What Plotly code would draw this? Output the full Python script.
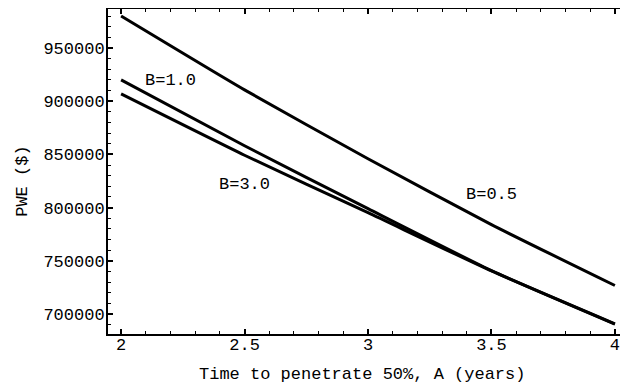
import plotly.graph_objects as go

# Data
A_years = [2.0, 2.5, 3.0, 3.5, 4.0]
pwe_b05 = [980000, 910600, 845900, 784000, 726800]
pwe_b10 = [920000, 858100, 799000, 740800, 690600]
pwe_b30 = [906800, 849200, 795200, 740500, 690800]

labels = ["B=1.0", "B=3.0", "B=0.5"]
label_x = [2.2, 2.5, 3.5]
label_y = [919000, 821500, 812100]

x_ticks = [2, 2.5, 3, 3.5, 4]
x_ticklabels = ["2", "2.5", "3", "3.5", "4"]
y_ticks = [700000, 750000, 800000, 850000, 900000, 950000]

FONT = "Liberation Mono"
FS = 17

fig = go.Figure()
for ys in (pwe_b05, pwe_b10, pwe_b30):
    fig.add_trace(go.Scatter(x=A_years, y=ys, mode="lines",
                             line=dict(color="black", width=3, shape="spline", smoothing=0.5),
                             showlegend=False, hoverinfo="skip"))

for t, lx, ly in zip(labels, label_x, label_y):
    fig.add_annotation(x=lx, y=ly, text=t, showarrow=False,
                       font=dict(family=FONT, size=FS, color="black"))

fig.add_annotation(xref="paper", yref="paper", x=0.49, y=-0.125, yanchor="middle",
                   text="Time to penetrate 50%, A (years)", showarrow=False,
                   font=dict(family=FONT, size=FS, color="black"))
fig.add_annotation(xref="paper", yref="paper", x=-0.165, y=0.47, xanchor="center",
                   text="PWE ($)", textangle=-90, showarrow=False,
                   font=dict(family=FONT, size=FS, color="black"))

fig.update_xaxes(range=[1.947, 4.045], tickvals=x_ticks, ticktext=x_ticklabels,
                 ticks="inside", ticklen=5, tickwidth=1.5, tickcolor="black",
                 minor=dict(ticks="inside", dtick=0.1, tick0=2, ticklen=3, tickcolor="black", tickwidth=1),
                 showline=True, linecolor="black", linewidth=2, mirror="allticks",
                 showgrid=False, zeroline=False, automargin=False, ticklabelstandoff=-6,
                 tickfont=dict(family=FONT, size=FS, color="black"))
fig.update_yaxes(range=[681250, 986600], tickvals=y_ticks, tickformat="d",
                 ticks="inside", ticklen=5, tickwidth=1.5, tickcolor="black",
                 minor=dict(ticks="inside", dtick=10000, tick0=700000, ticklen=3, tickcolor="black", tickwidth=1),
                 showline=True, linecolor="black", linewidth=2, mirror="allticks",
                 showgrid=False, zeroline=False, automargin=False, ticklabelstandoff=-2,
                 tickfont=dict(family=FONT, size=FS, color="black"))

# page body has an 8px margin, so the figure is shifted accordingly
fig.update_layout(width=620, height=377,
                  margin=dict(l=100, r=2, t=1, b=51),
                  plot_bgcolor="white", paper_bgcolor="white")

fig.write_html("out.html")
